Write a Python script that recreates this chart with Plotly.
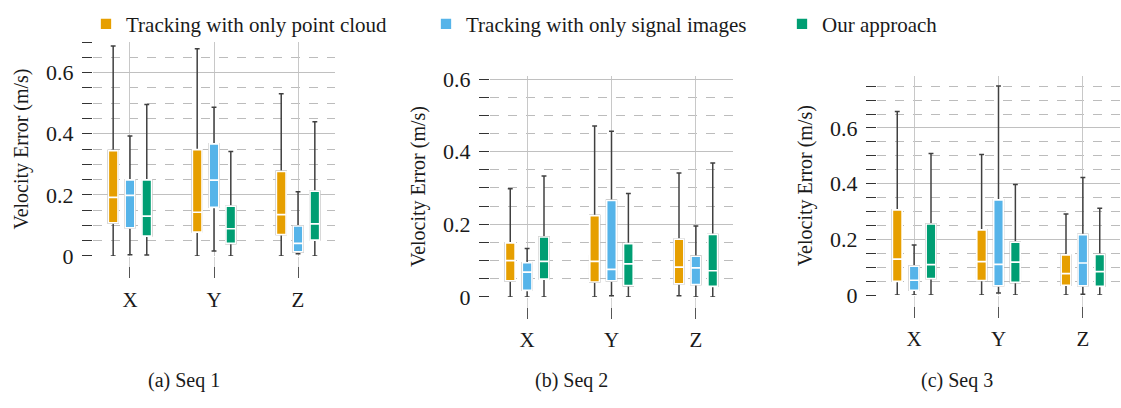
import plotly.graph_objects as go

# ---------------- data ----------------
categories = ["X", "Y", "Z"]
series_names = ["Tracking with only point cloud",
                "Tracking with only signal images",
                "Our approach"]
captions = ["(a) Seq 1", "(b) Seq 2", "(c) Seq 3"]
y_title = "Velocity Error (m/s)"
y_tick_vals = [0, 0.2, 0.4, 0.6]
y_tick_text = ["0", "0.2", "0.4", "0.6"]

# each entry: [lower whisker, Q1, median, Q3, upper whisker] for X, Y, Z
seq1_pointcloud = [[0.000, 0.108, 0.192, 0.345, 0.687],
                   [0.000, 0.078, 0.143, 0.348, 0.678],
                   [0.000, 0.070, 0.135, 0.277, 0.531]]
seq1_signal = [[0.004, 0.092, 0.198, 0.249, 0.393],
               [0.016, 0.159, 0.248, 0.367, 0.487],
               [0.007, 0.013, 0.041, 0.098, 0.210]]
seq1_ours = [[0.003, 0.065, 0.130, 0.249, 0.496],
             [0.000, 0.041, 0.089, 0.163, 0.342],
             [0.000, 0.052, 0.105, 0.212, 0.439]]

seq2_pointcloud = [[0.000, 0.044, 0.100, 0.149, 0.298],
                   [0.000, 0.041, 0.098, 0.224, 0.471],
                   [0.003, 0.036, 0.082, 0.159, 0.341]]
seq2_signal = [[0.000, 0.018, 0.068, 0.094, 0.133],
               [0.003, 0.044, 0.076, 0.266, 0.456],
               [0.000, 0.034, 0.080, 0.112, 0.195]]
seq2_ours = [[0.000, 0.049, 0.098, 0.165, 0.333],
             [0.000, 0.031, 0.091, 0.147, 0.285],
             [0.000, 0.029, 0.072, 0.172, 0.369]]

seq3_pointcloud = [[0.000, 0.049, 0.129, 0.306, 0.659],
                   [0.000, 0.052, 0.120, 0.234, 0.505],
                   [0.000, 0.035, 0.077, 0.144, 0.291]]
seq3_signal = [[0.000, 0.017, 0.053, 0.104, 0.180],
               [0.007, 0.033, 0.110, 0.342, 0.751],
               [0.003, 0.033, 0.115, 0.217, 0.422]]
seq3_ours = [[0.000, 0.059, 0.109, 0.255, 0.508],
             [0.000, 0.045, 0.118, 0.190, 0.397],
             [0.000, 0.031, 0.084, 0.146, 0.312]]

sequences = [[seq1_pointcloud, seq1_signal, seq1_ours],
             [seq2_pointcloud, seq2_signal, seq2_ours],
             [seq3_pointcloud, seq3_signal, seq3_ours]]

# ---------------- style ----------------
W, H = 1121, 408
colors = ["#E69F00", "#56B4E9", "#009E73"]
FONT = "Liberation Serif"
whisker_color = "#404040"

x_dom_px = [(93, 335), (490, 733), (877, 1120)]
y_dom_px = [(35, 261), (71, 304.3), (71, 302.3)]
y_ranges = [[0, 0.70], [0, 0.608], [0, 0.786]]
tick_pos_px = [272, 315, 314]
caption_x_px = [184, 571, 957]
legend_x_px = [86, 426, 782]
x_range = [-0.44, 2.44]

fig = go.Figure()

for s, seq in enumerate(sequences):
    xa = "x" if s == 0 else f"x{s+1}"
    ya = "y" if s == 0 else f"y{s+1}"
    for k, data in enumerate(seq):
        lo = [d[0] for d in data]
        q1 = [d[1] for d in data]
        md = [d[2] for d in data]
        q3 = [d[3] for d in data]
        hi = [d[4] for d in data]
        # whiskers (dark)
        fig.add_trace(go.Box(
            x=categories, q1=q1, median=md, q3=q3,
            lowerfence=lo, upperfence=hi,
            fillcolor=colors[k], line=dict(color=whisker_color, width=1.5),
            whiskerwidth=0.5, offsetgroup=str(k), name=series_names[k],
            showlegend=False, hoverinfo="skip", xaxis=xa, yaxis=ya,
        ))
        # coloured box with white median
        fig.add_trace(go.Box(
            x=categories, q1=q1, median=md, q3=q3,
            lowerfence=q1, upperfence=q3,
            fillcolor=colors[k], line=dict(color="white", width=1.7),
            whiskerwidth=0, offsetgroup=str(k), name=series_names[k],
            showlegend=(s == 0), legend=("legend" if k == 0 else f"legend{k+1}"),
            xaxis=xa, yaxis=ya,
        ))
    # empty trace so that the offset category axis is drawn
    fig.add_trace(go.Scatter(x=[], y=[], xaxis=f"x{s+4}", yaxis=ya,
                             showlegend=False, hoverinfo="skip"))

layout = dict(
    width=W, height=H, margin=dict(l=0, r=0, t=0, b=0),
    paper_bgcolor="white", plot_bgcolor="white",
    boxmode="group", boxgap=0.4, boxgroupgap=0.42,
    font=dict(family=FONT, color="#1a1a1a", size=20),
    showlegend=True,
)

for s in range(3):
    sfx = "" if s == 0 else str(s + 1)
    x0, x1 = x_dom_px[s]
    yt, yb = y_dom_px[s]
    layout["xaxis" + sfx] = dict(
        domain=[x0 / W, x1 / W], anchor="y" + sfx, type="category",
        range=x_range, showgrid=True, gridcolor="#c8c8c8", gridwidth=1.2,
        ticks="outside", ticklen=11, tickcolor="#d4d4d4", tickwidth=1,
        showticklabels=False, zeroline=False, showline=False,
    )
    layout["yaxis" + sfx] = dict(
        domain=[1 - yb / H, 1 - yt / H], anchor="x" + sfx,
        range=y_ranges[s], tickmode="array", tickvals=y_tick_vals,
        ticktext=y_tick_text, showgrid=True, gridcolor="#c0c0c0", gridwidth=1,
        ticks="outside", ticklen=10, tickcolor="#333333", tickwidth=1.2,
        ticklabelstandoff=4,
        tickfont=dict(family=FONT, size=22, color="#1a1a1a"),
        minor=dict(dtick=0.05, tick0=0, showgrid=True, griddash="dash",
                   gridcolor="#bcbcbc", gridwidth=1, ticks="outside",
                   ticklen=10, tickcolor="#333333", tickwidth=1.2),
        zeroline=False, showline=False,
        title=dict(text=y_title, standoff=12,
                   font=dict(family=FONT, size=20, color="#1a1a1a")),
    )
    # dark category ticks + labels, offset below the plot
    layout[f"xaxis{s+4}"] = dict(
        overlaying="x" + sfx, anchor="free",
        position=1 - tick_pos_px[s] / H,
        domain=[x0 / W, x1 / W], range=x_range, type="linear",
        tickmode="array", tickvals=[0, 1, 2], ticktext=categories,
        ticks="outside", ticklen=11, tickcolor="#555555", tickwidth=1.2,
        showgrid=False, zeroline=False, showline=False,
        tickfont=dict(family=FONT, size=21, color="#1a1a1a"),
        ticklabelstandoff=3,
    )

for k in range(3):
    key = "legend" if k == 0 else f"legend{k+1}"
    layout[key] = dict(
        x=legend_x_px[k] / W, y=1 - 16 / H, xanchor="left", yanchor="middle",
        orientation="h", bgcolor="rgba(0,0,0,0)", borderwidth=0,
        font=dict(family=FONT, size=21, color="#1a1a1a"),
    )

layout["annotations"] = [
    dict(text=captions[s], x=caption_x_px[s] / W, y=1 - 393 / H,
         xref="paper", yref="paper", xanchor="center", yanchor="middle",
         showarrow=False, font=dict(family=FONT, size=20, color="#1a1a1a"))
    for s in range(3)
]

fig.update_layout(**layout)
fig.write_html("out.html")
